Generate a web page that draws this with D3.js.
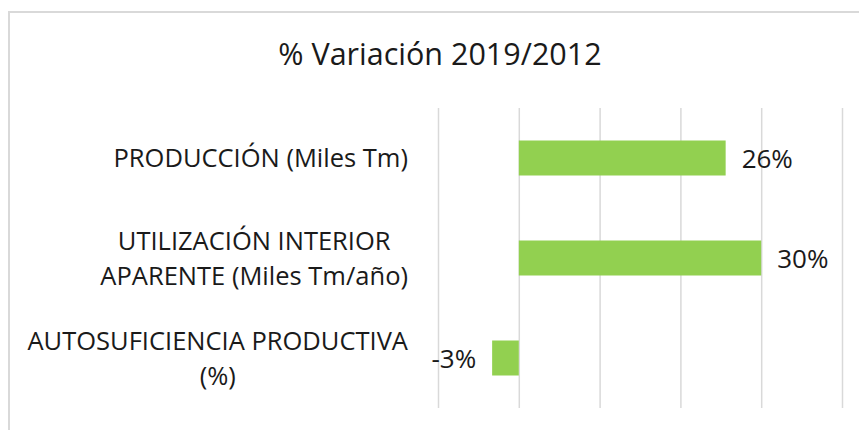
<!DOCTYPE html>
<head>
    <meta charset="utf-8">
    <script src="https://d3js.org/d3.v7.min.js"></script>
    <style>
        body { margin: 0; background: #fff; }
        text { font-family: "Open Sans", sans-serif; fill: #1a1a1a; }
    </style>
</head>
<body>
<svg width="859" height="430"></svg>

<script>
    // data
    var categories = [
        ["PRODUCCIÓN (Miles Tm)"],
        ["UTILIZACIÓN INTERIOR", "APARENTE (Miles Tm/año)"],
        ["AUTOSUFICIENCIA PRODUCTIVA", "(%)"]
    ];
    var values = [25.6, 30.0, -3.3];
    var gridTicks = [-10, 0, 10, 20, 30, 40];
    var title = "% Variación 2019/2012";

    var svg = d3.select("svg"),
        margin = {top: 108, right: 17, bottom: 22, left: 438},
        width = +svg.attr("width") - margin.left - margin.right,
        height = +svg.attr("height") - margin.top - margin.bottom;

    // chart frame
    svg.append("rect")
        .attr("x", 9).attr("y", 12)
        .attr("width", 900).attr("height", 500)
        .attr("fill", "none")
        .attr("stroke", "#d9d9d9")
        .attr("stroke-width", 2);

    svg.append("text")
        .attr("x", 440)
        .attr("y", 65)
        .attr("text-anchor", "middle")
        .attr("font-size", 30.5)
        .text(title);

    var g = svg.append("g").attr("transform", "translate(" + margin.left + "," + margin.top + ")");

    var x = d3.scaleLinear()
        .domain([-10, 40])
        .range([0, 404]);

    var y = d3.scaleBand()
        .domain(d3.range(categories.length))
        .range([0, height])
        .paddingInner(0.65)
        .paddingOuter(0.325);

    // vertical gridlines
    g.append("g")
        .call(d3.axisBottom(x).tickValues(gridTicks).tickSize(height).tickFormat(""))
        .call(function(a) {
            a.select(".domain").remove();
            a.selectAll("line").attr("stroke", "#d9d9d9").attr("stroke-width", 1.5);
        });

    // bars
    g.selectAll(".bar")
        .data(values)
        .enter()
        .append("rect")
        .attr("class", "bar")
        .attr("x", function(d) { return x(Math.min(0, d)); })
        .attr("y", function(d, i) { return y(i); })
        .attr("width", function(d) { return Math.abs(x(d) - x(0)); })
        .attr("height", y.bandwidth())
        .attr("fill", "#92d050");

    // value labels
    g.selectAll(".val")
        .data(values)
        .enter()
        .append("text")
        .attr("class", "val")
        .attr("x", function(d) { return d >= 0 ? x(d) + 16 : x(d) - 16; })
        .attr("y", function(d, i) { return y(i) + y.bandwidth() / 2 + 10; })
        .attr("text-anchor", function(d) { return d >= 0 ? "start" : "end"; })
        .attr("font-size", 26)
        .text(function(d) { return Math.round(d) + "%"; });

    // category labels: lines centred on each other, block right-aligned
    var rightEdge = 408, lineH = 35;
    categories.forEach(function(lines, i) {
        var cy = margin.top + y(i) + y.bandwidth() / 2;
        var lab = svg.append("text").attr("font-size", 25.5).attr("text-anchor", "middle");
        lines.forEach(function(l, j) {
            lab.append("tspan")
                .attr("y", cy + (j - (lines.length - 1) / 2) * lineH + 9)
                .text(l);
        });
        var w = d3.max(lab.selectAll("tspan").nodes(), function(n) { return n.getComputedTextLength(); });
        lab.selectAll("tspan").attr("x", rightEdge - w / 2);
    });
</script>
</body>
